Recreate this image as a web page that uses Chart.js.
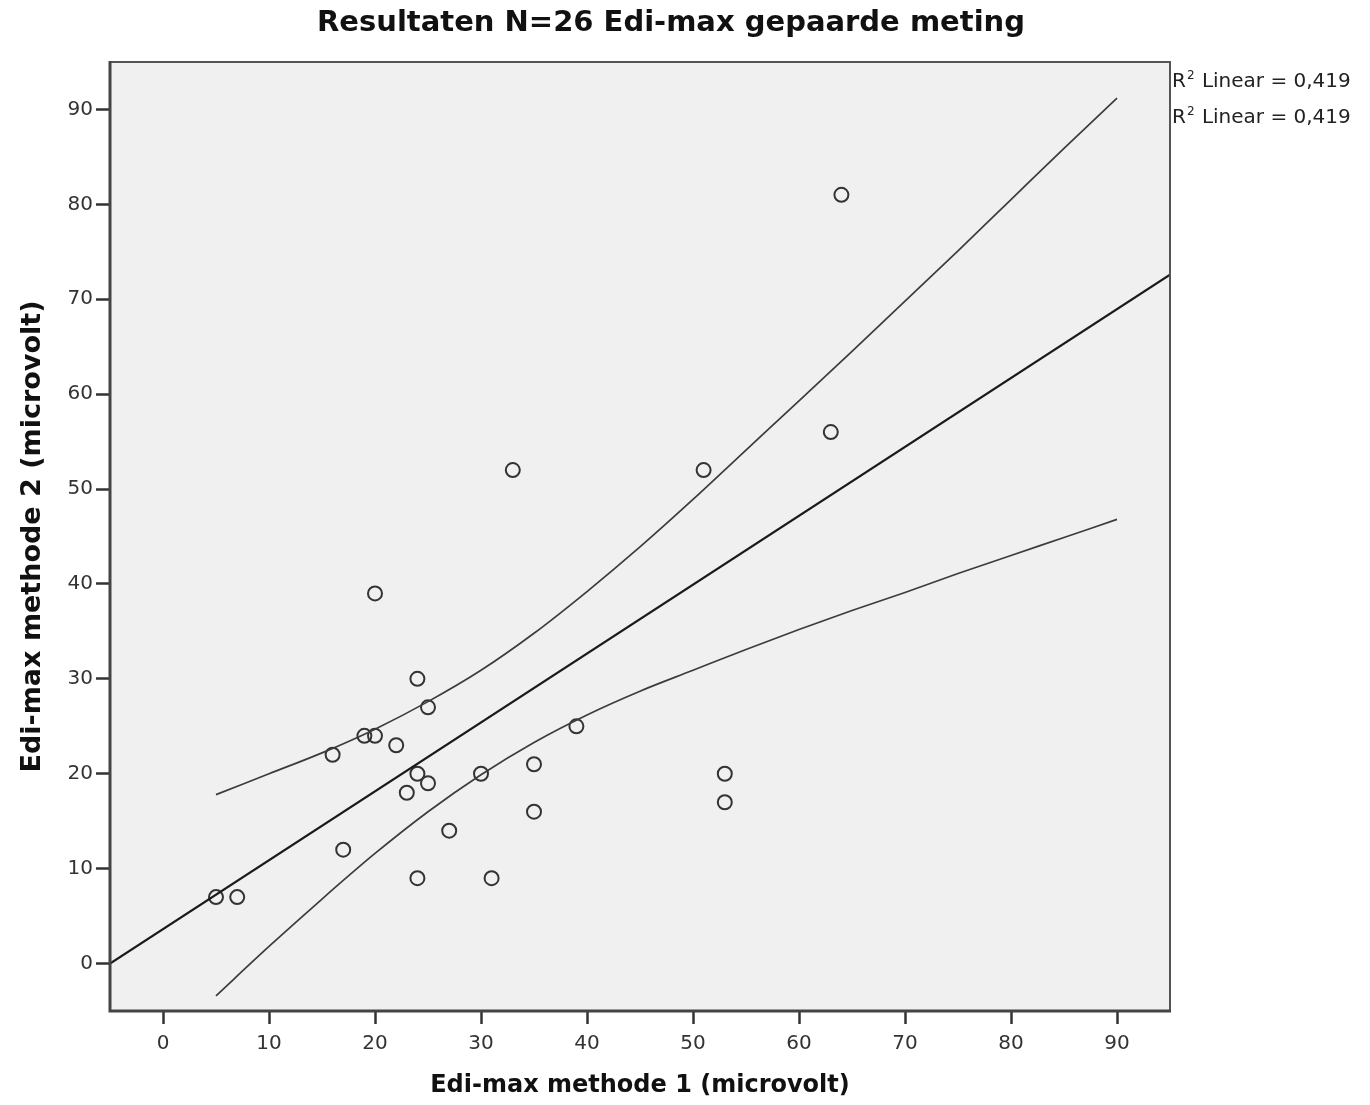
<!DOCTYPE html>
<html>
<head>
<meta charset="utf-8">
<title>Resultaten N=26 Edi-max gepaarde meting</title>
<script src="https://cdn.jsdelivr.net/npm/chart.js@4.4.0/dist/chart.umd.min.js"></script>
<style>
  body { margin: 0; background: #fff; }
  #wrap { width: 1370px; height: 1105px; }
</style>
</head>
<body>
<div id="wrap"><canvas id="chart" width="1370" height="1105"></canvas></div>
<script>
// measured points, methode 1 (x) vs methode 2 (y)
var methode1 = [5, 7, 16, 17, 19, 20, 20, 22, 23, 24, 24, 24, 25, 25, 27, 30, 31, 33, 35, 35, 39, 51, 53, 53, 63, 64];
var methode2 = [7, 7, 22, 12, 24, 24, 39, 23, 18, 30, 20, 9, 27, 19, 14, 20, 9, 52, 21, 16, 25, 52, 20, 17, 56, 81];

// fit line, read at the plot edges
var fitX = [-5, 95];
var fitY = [0.0, 72.6];

var bandX = [5, 10, 15, 20, 25, 30, 35, 40, 45, 50, 55, 60, 65, 70, 75, 80, 85, 90];
var bandUpper = [17.8, 20.0, 22.2, 24.7, 27.6, 30.9, 34.8, 39.2, 43.9, 48.9, 54.1, 59.3, 64.5, 69.8, 75.1, 80.5, 85.9, 91.2];
var bandLower = [-3.4, 1.8, 6.8, 11.6, 16.0, 19.9, 23.3, 26.2, 28.7, 30.9, 33.1, 35.2, 37.2, 39.1, 41.1, 43.0, 44.9, 46.8];

var tickValues = [0, 10, 20, 30, 40, 50, 60, 70, 80, 90];
var rsqLabel = "Linear = 0,419";

function pairs(xs, ys) {
  return xs.map(function(x, i) { return {x: x, y: ys[i]}; });
}

Chart.defaults.font.family = "'DejaVu Sans', sans-serif";
Chart.defaults.color = "#333";

// grey plot panel + frame
var panel = {
  id: "panel",
  beforeDraw: function(chart) {
    var a = chart.chartArea, ctx = chart.ctx;
    ctx.save();
    ctx.fillStyle = "#f0f0f0";
    ctx.fillRect(a.left, a.top, a.right - a.left, a.bottom - a.top);
    ctx.restore();
  },
  afterDraw: function(chart) {
    var a = chart.chartArea, ctx = chart.ctx;
    ctx.save();
    ctx.strokeStyle = "#555";
    ctx.lineWidth = 2;
    ctx.beginPath();
    ctx.moveTo(a.left, a.top);
    ctx.lineTo(a.right, a.top);
    ctx.lineTo(a.right, a.bottom);
    ctx.stroke();
    ctx.strokeStyle = "#444";
    ctx.lineWidth = 3;
    ctx.beginPath();
    ctx.moveTo(a.left, a.top - 1);
    ctx.lineTo(a.left, a.bottom);
    ctx.lineTo(a.right + 1, a.bottom);
    ctx.stroke();

    // R2 labels right of the panel
    var x0 = a.right + 2;
    [87, 123].forEach(function(base) {
      ctx.fillStyle = "#222";
      ctx.textBaseline = "alphabetic";
      ctx.textAlign = "left";
      ctx.font = "20px 'DejaVu Sans'";
      ctx.fillText("R", x0, base);
      var w = ctx.measureText("R").width;
      ctx.font = "12px 'DejaVu Sans'";
      ctx.fillText("2", x0 + w + 1, base - 8);
      var w2 = ctx.measureText("2").width;
      ctx.font = "20px 'DejaVu Sans'";
      ctx.fillText(" " + rsqLabel, x0 + w + w2 + 2, base);
    });
    ctx.restore();
  }
};

var ctx = document.getElementById("chart").getContext("2d");
new Chart(ctx, {
  type: "scatter",
  data: {
    datasets: [
      {
        label: "upper",
        data: pairs(bandX, bandUpper),
        showLine: true,
        borderColor: "#3c3c3c",
        borderWidth: 1.7,
        pointRadius: 0,
        cubicInterpolationMode: "monotone",
        fill: false
      },
      {
        label: "lower",
        data: pairs(bandX, bandLower),
        showLine: true,
        borderColor: "#3c3c3c",
        borderWidth: 1.7,
        pointRadius: 0,
        cubicInterpolationMode: "monotone",
        fill: false
      },
      {
        label: "fit",
        data: pairs(fitX, fitY),
        showLine: true,
        borderColor: "#1a1a1a",
        borderWidth: 2.2,
        pointRadius: 0,
        fill: false
      },
      {
        label: "Edi-max",
        data: pairs(methode1, methode2),
        pointRadius: 7,
        pointBorderWidth: 2,
        pointBorderColor: "#333",
        pointBackgroundColor: "rgba(0,0,0,0)",
        showLine: false
      }
    ]
  },
  options: {
    responsive: false,
    animation: false,
    layout: { padding: { left: 0, right: 28, top: 0, bottom: 0 } },
    plugins: {
      legend: { display: false },
      tooltip: { enabled: false },
      title: {
        display: true,
        text: "Resultaten N=26 Edi-max gepaarde meting",
        color: "#111",
        font: { size: 29, weight: "bold" },
        padding: { top: 6, bottom: 21.2 }
      }
    },
    scales: {
      x: {
        type: "linear",
        min: -5,
        max: 95,
        afterBuildTicks: function(s) { s.ticks = tickValues.map(function(v) { return {value: v}; }); },
        afterFit: function(s) { s.height = 94; },
        grid: { drawOnChartArea: false, drawTicks: true, tickLength: 13, tickColor: "#333", tickWidth: 2.5 },
        border: { display: false },
        ticks: { color: "#333", font: { size: 20 }, padding: 8, maxRotation: 0 },
        title: {
          display: true,
          text: "Edi-max methode 1 (microvolt)",
          color: "#111",
          font: { size: 24, weight: "bold" },
          padding: { top: 0, bottom: 5 }
        }
      },
      y: {
        type: "linear",
        min: -5,
        max: 95,
        afterBuildTicks: function(s) { s.ticks = tickValues.map(function(v) { return {value: v}; }); },
        afterFit: function(s) { s.width = 110; },
        grid: { drawOnChartArea: false, drawTicks: true, tickLength: 14, tickColor: "#333", tickWidth: 2.5 },
        border: { display: false },
        ticks: { color: "#333", font: { size: 20 }, padding: 3 },
        title: {
          display: true,
          text: "Edi-max methode 2 (microvolt)",
          color: "#111",
          font: { size: 27, weight: "bold" },
          padding: { top: 17, bottom: 0 }
        }
      },
      // empty right axis, only to keep room for the R2 text
      y2: {
        type: "linear",
        position: "right",
        afterFit: function(s) { s.width = 172; },
        grid: { display: false },
        border: { display: false },
        ticks: { display: false }
      }
    }
  },
  plugins: [panel]
});
</script>
</body>
</html>
